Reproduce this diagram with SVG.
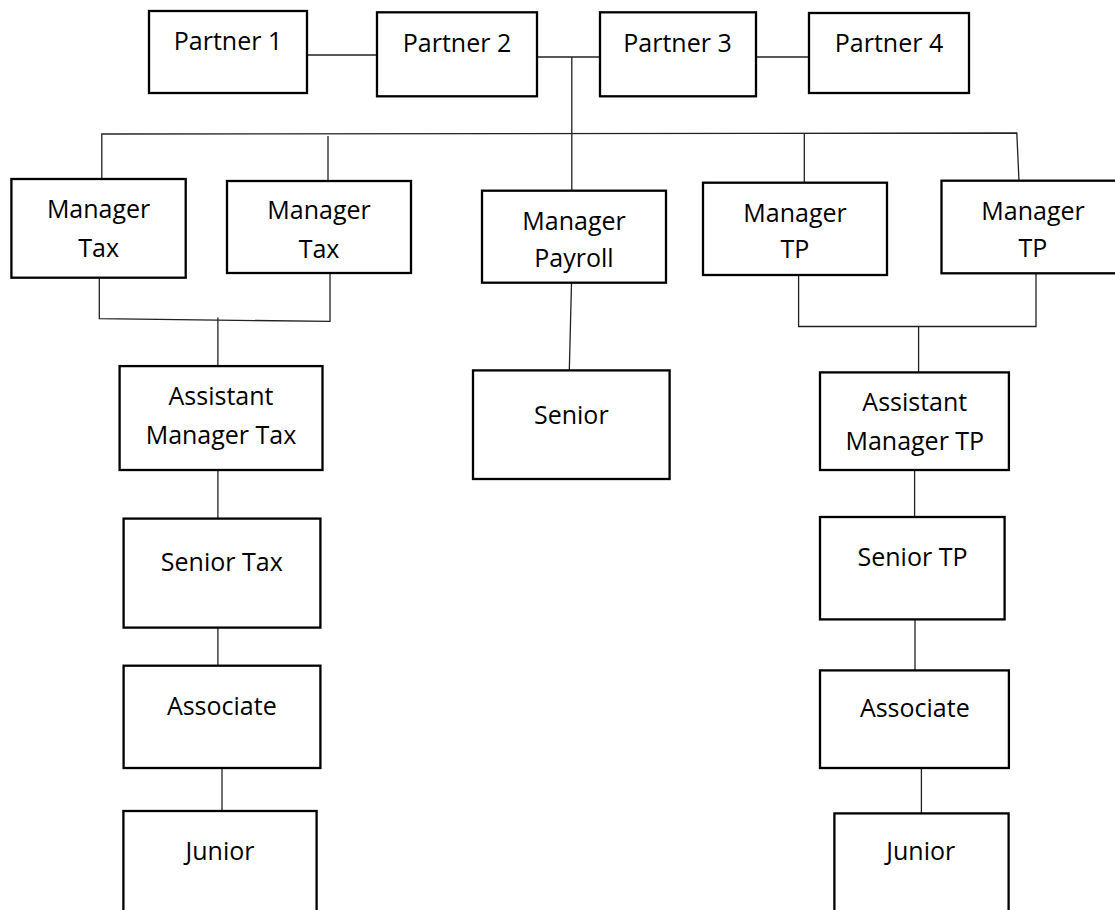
<svg xmlns="http://www.w3.org/2000/svg" width="1115" height="910" viewBox="0 0 1115 910">
<style>
.box{fill:#fff;stroke:#000;stroke-width:2.3}
.lbl{font-family:"Open Sans","Liberation Sans",sans-serif;font-size:25px;fill:#000;text-anchor:middle}
.con line,.con polyline{stroke:#222;stroke-width:1.3;fill:none}
</style>
<rect width="1115" height="910" fill="#fff"/>
<g class="con">
<line x1="307" y1="55" x2="377" y2="55"/>
<line x1="537" y1="57" x2="600" y2="57"/>
<line x1="756" y1="57" x2="809" y2="57"/>
<line x1="571.8" y1="57" x2="571.8" y2="191"/>
<polyline points="101.8,180 101.8,134 1016.8,133 1019,181"/>
<line x1="328" y1="136" x2="328" y2="181"/>
<line x1="804.3" y1="133" x2="804.3" y2="183"/>
<polyline points="99.3,278 99.3,318.7 330,321.4 330,273"/>
<line x1="217.9" y1="317.5" x2="217.9" y2="366"/>
<line x1="217.9" y1="470" x2="217.9" y2="518.6"/>
<line x1="217.9" y1="627.6" x2="217.9" y2="665.7"/>
<line x1="222" y1="768" x2="222" y2="811"/>
<line x1="571.5" y1="283" x2="569.3" y2="370.4"/>
<polyline points="798.6,275 798.6,326.5 1036,326.5 1036,273"/>
<line x1="918.6" y1="326.5" x2="918.6" y2="372.4"/>
<line x1="914.6" y1="470" x2="914.6" y2="517"/>
<line x1="915" y1="619.4" x2="915" y2="670.4"/>
<line x1="921.4" y1="768" x2="921.4" y2="813.5"/>
</g>
<g id="partner1"><rect class="box" x="149" y="11" width="158" height="82"/><text class="lbl" x="228" y="50">Partner 1</text></g>
<g id="partner2"><rect class="box" x="377" y="12.3" width="160" height="84"/><text class="lbl" x="457" y="52">Partner 2</text></g>
<g id="partner3"><rect class="box" x="600" y="12.3" width="156" height="84"/><text class="lbl" x="677.5" y="52">Partner 3</text></g>
<g id="partner4"><rect class="box" x="809" y="13" width="160" height="80"/><text class="lbl" x="889" y="52">Partner 4</text></g>
<g id="mgrtax1"><rect class="box" x="11.4" y="179" width="174.3" height="98.7"/><text class="lbl" x="98.6" y="218">Manager</text><text class="lbl" x="98.6" y="257">Tax</text></g>
<g id="mgrtax2"><rect class="box" x="227" y="181" width="184" height="92"/><text class="lbl" x="319" y="219">Manager</text><text class="lbl" x="319" y="258">Tax</text></g>
<g id="mgrpayroll"><rect class="box" x="482" y="190.7" width="184" height="92"/><text class="lbl" x="574" y="230">Manager</text><text class="lbl" x="574" y="266.7">Payroll</text></g>
<g id="mgrtp1"><rect class="box" x="703" y="182.7" width="184" height="92.3"/><text class="lbl" x="795" y="221.7">Manager</text><text class="lbl" x="795" y="258.3">TP</text></g>
<g id="mgrtp2"><rect class="box" x="941.5" y="180.7" width="190" height="92.6"/><text class="lbl" x="1033" y="219.5">Manager</text><text class="lbl" x="1033" y="257">TP</text></g>
<g id="asstmgrtax"><rect class="box" x="119.6" y="366.1" width="202.9" height="103.9"/><text class="lbl" x="221" y="405">Assistant</text><text class="lbl" x="221" y="444">Manager Tax</text></g>
<g id="seniortax"><rect class="box" x="123.6" y="518.6" width="196.8" height="109"/><text class="lbl" x="221.8" y="571.2">Senior Tax</text></g>
<g id="associatetax"><rect class="box" x="123.6" y="665.7" width="196.8" height="102.3"/><text class="lbl" x="221.8" y="715">Associate</text></g>
<g id="juniortax"><rect class="box" x="123.4" y="811" width="193.2" height="120"/><text class="lbl" x="220" y="859.5">Junior</text></g>
<g id="seniorpayroll"><rect class="box" x="473" y="370.4" width="196.6" height="108.6"/><text class="lbl" x="571.3" y="423.7">Senior</text></g>
<g id="asstmgrtp"><rect class="box" x="820" y="372.4" width="188.9" height="97.6"/><text class="lbl" x="914.8" y="410.9">Assistant</text><text class="lbl" x="914.8" y="449.8">Manager TP</text></g>
<g id="seniortp"><rect class="box" x="820" y="517" width="184.6" height="102.4"/><text class="lbl" x="912.5" y="565.7">Senior TP</text></g>
<g id="associatetp"><rect class="box" x="820" y="670.4" width="188.9" height="97.6"/><text class="lbl" x="914.8" y="717">Associate</text></g>
<g id="juniortp"><rect class="box" x="834.4" y="813.4" width="174.2" height="120"/><text class="lbl" x="920.8" y="859.5">Junior</text></g>
</svg>
